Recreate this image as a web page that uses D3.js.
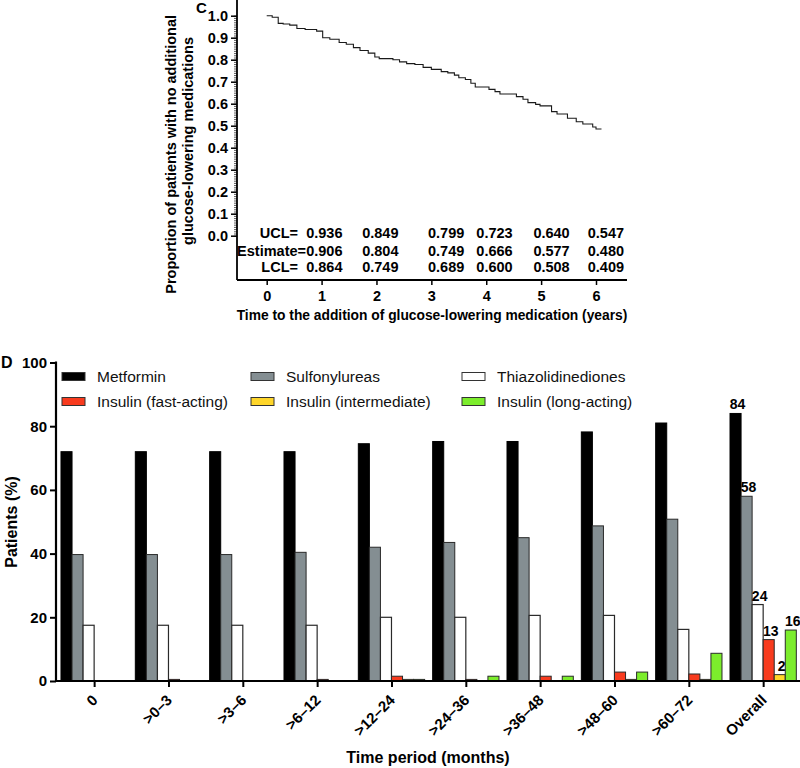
<!DOCTYPE html>
<html><head><meta charset="utf-8">
<script src="https://cdn.jsdelivr.net/npm/d3@7"></script>
<style>
html,body{margin:0;padding:0;background:#fff;}
svg{display:block;font-family:"Liberation Sans",Arial,Helvetica,sans-serif;}
</style></head>
<body>
<svg id="chart" width="800" height="768"></svg>
<script>
// ---------- Panel C data ----------
const kmTimes = [0, 0.10, 0.21, 0.30, 0.42, 0.55, 0.70, 0.91, 1.02, 1.15, 1.32, 1.45, 1.58, 1.70, 1.85, 1.97, 2.05, 2.30, 2.42, 2.55, 2.70, 2.85, 3.00, 3.18, 3.30, 3.42, 3.50, 3.62, 3.72, 3.80, 4.05, 4.16, 4.25, 4.55, 4.67, 4.76, 4.90, 4.98, 5.19, 5.29, 5.48, 5.64, 5.76, 5.94, 6.00];
const kmSurv  = [1.000, 0.993, 0.965, 0.962, 0.957, 0.942, 0.937, 0.930, 0.900, 0.893, 0.878, 0.870, 0.855, 0.842, 0.830, 0.812, 0.805, 0.800, 0.790, 0.782, 0.778, 0.765, 0.756, 0.746, 0.740, 0.730, 0.718, 0.710, 0.693, 0.676, 0.665, 0.655, 0.644, 0.632, 0.620, 0.605, 0.597, 0.590, 0.564, 0.553, 0.534, 0.518, 0.508, 0.494, 0.485];
const kmEnd = 6.1;
const tableYears = [1, 2, 3, 4, 5, 6];
const ucl      = [0.936, 0.849, 0.799, 0.723, 0.640, 0.547];
const estimate = [0.906, 0.804, 0.749, 0.666, 0.577, 0.480];
const lcl      = [0.864, 0.749, 0.689, 0.600, 0.508, 0.409];
const yTicksC = [0, 0.1, 0.2, 0.3, 0.4, 0.5, 0.6, 0.7, 0.8, 0.9, 1.0];
const xTicksC = [0, 1, 2, 3, 4, 5, 6];

// ---------- Panel D data ----------
const categories = ["0", ">0\u20133", ">3\u20136", ">6\u201312", ">12\u201324", ">24\u201336", ">36\u201348", ">48\u201360", ">60\u201372", "Overall"];
const seriesNames = ["Metformin", "Sulfonylureas", "Thiazolidinediones", "Insulin (fast-acting)", "Insulin (intermediate)", "Insulin (long-acting)"];
const metformin     = [72, 72, 72, 72, 74.5, 75.2, 75.2, 78.2, 81, 84];
const sulfonylureas = [39.7, 39.7, 39.7, 40.4, 42, 43.5, 45, 48.7, 50.8, 58];
const tzd           = [17.5, 17.5, 17.5, 17.5, 20, 20, 20.6, 20.6, 16.2, 24];
const insulinFast   = [0, 0.5, 0, 0.5, 1.5, 0.5, 1.5, 2.8, 2.2, 13];
const insulinInter  = [0, 0, 0, 0, 0.5, 0, 0, 0.5, 0.5, 2];
const insulinLong   = [0, 0, 0, 0, 0.5, 1.5, 1.5, 2.8, 8.7, 16];
const overallLabels = ["84", "58", "24", "13", "2", "16"];
const yTicksD = [0, 20, 40, 60, 80, 100];

const colors = ["#000000", "#848e92", "#ffffff", "#f83b1e", "#ffd62a", "#7ced2c"];
const seriesValues = [metformin, sulfonylureas, tzd, insulinFast, insulinInter, insulinLong];

const svg = d3.select("#chart");

// ================= Panel C =================
const xC = d3.scaleLinear().domain([0, 6]).range([266.7, 596]);
const yC = d3.scaleLinear().domain([0, 1]).range([235.7, 15.7]);
const gC = svg.append("g");
const axC_left = 237, axC_bottom = 280, axC_right = 627, axC_top = 0;
const fsC = 14.5;

// minor ticks
gC.append("g").attr("transform", `translate(${axC_left},0)`)
  .call(d3.axisLeft(yC).tickValues(d3.range(0, 101).map(d => d / 100)).tickSize(3).tickFormat(""))
  .call(g => g.select(".domain").remove())
  .call(g => g.selectAll("line").attr("stroke", "#333").attr("stroke-width", 0.8));
// major ticks
gC.append("g").attr("transform", `translate(${axC_left},0)`)
  .call(d3.axisLeft(yC).tickValues(yTicksC).tickSize(6).tickPadding(3).tickFormat(d3.format(".1f")))
  .call(g => g.select(".domain").remove())
  .call(g => g.selectAll("line").attr("stroke", "#000").attr("stroke-width", 1.5))
  .call(g => g.selectAll("text").attr("font-size", fsC).attr("font-weight", "bold").attr("fill", "#000"));
gC.append("line").attr("x1", axC_left).attr("x2", axC_left).attr("y1", axC_top).attr("y2", axC_bottom)
  .attr("stroke", "#000").attr("stroke-width", 1.8);

// x axis
gC.append("g").attr("transform", `translate(0,${axC_bottom})`)
  .call(d3.axisBottom(xC).tickValues(xTicksC).tickSize(5).tickPadding(6).tickFormat(d3.format("d")))
  .call(g => g.select(".domain").remove())
  .call(g => g.selectAll("line").attr("stroke", "#000").attr("stroke-width", 1.5))
  .call(g => g.selectAll("text").attr("font-size", fsC).attr("font-weight", "bold").attr("fill", "#000"));
gC.append("line").attr("x1", axC_left).attr("x2", axC_right).attr("y1", axC_bottom).attr("y2", axC_bottom)
  .attr("stroke", "#000").attr("stroke-width", 1.8);

// KM curve
const kmData = kmTimes.map((t, i) => ({t, s: kmSurv[i]}));
kmData.push({t: kmEnd, s: kmSurv[kmSurv.length - 1]});
gC.append("path").datum(kmData)
  .attr("d", d3.line().x(d => xC(d.t)).y(d => yC(d.s)).curve(d3.curveStepAfter))
  .attr("fill", "none").attr("stroke", "#1a1a1a").attr("stroke-width", 1.1);

// table
const tableColPos = [1.05, 2.07, 3.27, 4.15, 5.19, 6.18];
const rows = [{label: "UCL=", vals: ucl, y: 238, end: 298},
              {label: "Estimate=", vals: estimate, y: 255.5, end: 306},
              {label: "LCL=", vals: lcl, y: 271.5, end: 298}];
rows.forEach(r => {
  gC.append("text").attr("x", r.end).attr("y", r.y).attr("text-anchor", "end")
    .attr("font-size", fsC).attr("font-weight", "bold").text(r.label);
  gC.selectAll(null).data(r.vals).enter().append("text")
    .attr("x", (d, i) => xC(tableColPos[i])).attr("y", r.y).attr("text-anchor", "middle")
    .attr("font-size", fsC).attr("font-weight", "bold").text(d => d3.format(".3f")(d));
});

// titles
gC.append("text").attr("transform", "translate(176,15) rotate(-90)").attr("text-anchor", "end")
  .attr("font-size", 14.5).attr("font-weight", "bold").text("Proportion of patients with no additional");
gC.append("text").attr("transform", "translate(193,37) rotate(-90)").attr("text-anchor", "end")
  .attr("font-size", 14.5).attr("font-weight", "bold").text("glucose-lowering medications");
gC.append("text").attr("x", 432).attr("y", 320).attr("text-anchor", "middle")
  .attr("font-size", 13.8).attr("font-weight", "bold").text("Time to the addition of glucose-lowering medication (years)");
gC.append("text").attr("x", 196).attr("y", 13).attr("font-size", 15).attr("font-weight", "bold").text("C");

// ================= Panel D =================
const axD_left = 56, axD_bottom = 681, axD_right = 800;
const x0 = d3.scaleBand().domain(categories).range([56, 801.3]).paddingInner(0.108).paddingOuter(0.067);
const x1 = d3.scaleBand().domain(seriesNames).range([0, x0.bandwidth()]).padding(0);
const yD = d3.scaleLinear().domain([0, 100]).range([681, 362.5]);
const gD = svg.append("g");

// bars
const groups = gD.selectAll("g.grp").data(categories).enter().append("g")
  .attr("transform", d => `translate(${x0(d)},0)`);
groups.each(function(cat, ci) {
  const g = d3.select(this);
  const vals = seriesNames.map((s, si) => ({s, si, v: seriesValues[si][ci]})).filter(d => d.v > 0);
  g.selectAll("rect").data(vals).enter().append("rect")
    .attr("x", d => x1(d.s)).attr("width", x1.bandwidth())
    .attr("y", d => yD(d.v)).attr("height", d => yD(0) - yD(d.v))
    .attr("fill", d => colors[d.si])
    .attr("stroke", d => d.si === 0 ? "#000" : "#2a2a2a")
    .attr("stroke-width", d => d.si === 2 ? 1.2 : 1);
});

// Overall labels
const lastCat = categories[categories.length - 1];
gD.selectAll("text.vlab").data(seriesNames).enter().append("text")
  .attr("x", d => x0(lastCat) + x1(d) + x1.bandwidth() / 2 + 2)
  .attr("y", (d, i) => yD(seriesValues[i][categories.length - 1]) - 4)
  .attr("text-anchor", "middle").attr("font-size", 14).attr("font-weight", "bold")
  .text((d, i) => overallLabels[i]);

// y axis
gD.append("g").attr("transform", `translate(${axD_left},0)`)
  .call(d3.axisLeft(yD).tickValues(yTicksD).tickSize(6).tickPadding(3))
  .call(g => g.select(".domain").remove())
  .call(g => g.selectAll("line").attr("stroke", "#000").attr("stroke-width", 2))
  .call(g => g.selectAll("text").attr("font-size", 15).attr("font-weight", "bold").attr("fill", "#000"));
gD.append("line").attr("x1", axD_left).attr("x2", axD_left).attr("y1", yD(100) - 1).attr("y2", axD_bottom + 1)
  .attr("stroke", "#000").attr("stroke-width", 2.2);

// x axis
const xTickScale = d3.scalePoint().domain(categories)
  .range([x0(categories[0]) + x0.bandwidth() / 2, x0(lastCat) + x0.bandwidth() / 2]);
gD.append("g").attr("transform", `translate(0,${axD_bottom})`)
  .call(d3.axisBottom(xTickScale).tickSize(6))
  .call(g => g.select(".domain").remove())
  .call(g => g.selectAll("line").attr("stroke", "#000").attr("stroke-width", 2))
  .call(g => g.selectAll("text").attr("font-size", 15).attr("font-weight", "bold").attr("fill", "#000")
      .attr("text-anchor", "end").attr("x", 0).attr("y", 0).attr("dx", 0).attr("dy", 0)
      .attr("transform", "translate(4,20) rotate(-45)"));
gD.append("line").attr("x1", axD_left).attr("x2", axD_right).attr("y1", axD_bottom).attr("y2", axD_bottom)
  .attr("stroke", "#000").attr("stroke-width", 2.2);

// titles
gD.append("text").attr("transform", "translate(17,522) rotate(-90)").attr("text-anchor", "middle")
  .attr("font-size", 16).attr("font-weight", "bold").text("Patients (%)");
gD.append("text").attr("x", 428).attr("y", 763).attr("text-anchor", "middle")
  .attr("font-size", 16).attr("font-weight", "bold").text("Time period (months)");
gD.append("text").attr("x", 1).attr("y", 368).attr("font-size", 16).attr("font-weight", "bold").text("D");

// legend
const legX = [62, 251, 462];
const legY = [376.5, 401.5];
const leg = gD.selectAll("g.leg").data(seriesNames).enter().append("g")
  .attr("transform", (d, i) => `translate(${legX[i % 3]},${legY[Math.floor(i / 3)]})`);
leg.append("rect").attr("x", 0).attr("y", -4).attr("width", 23).attr("height", 8)
  .attr("fill", (d, i) => colors[i]).attr("stroke", "#333").attr("stroke-width", 1);
leg.append("text").attr("x", 35).attr("y", 5.5).attr("font-size", 15.5).attr("fill", "#111").text(d => d);
</script>
</body></html>
